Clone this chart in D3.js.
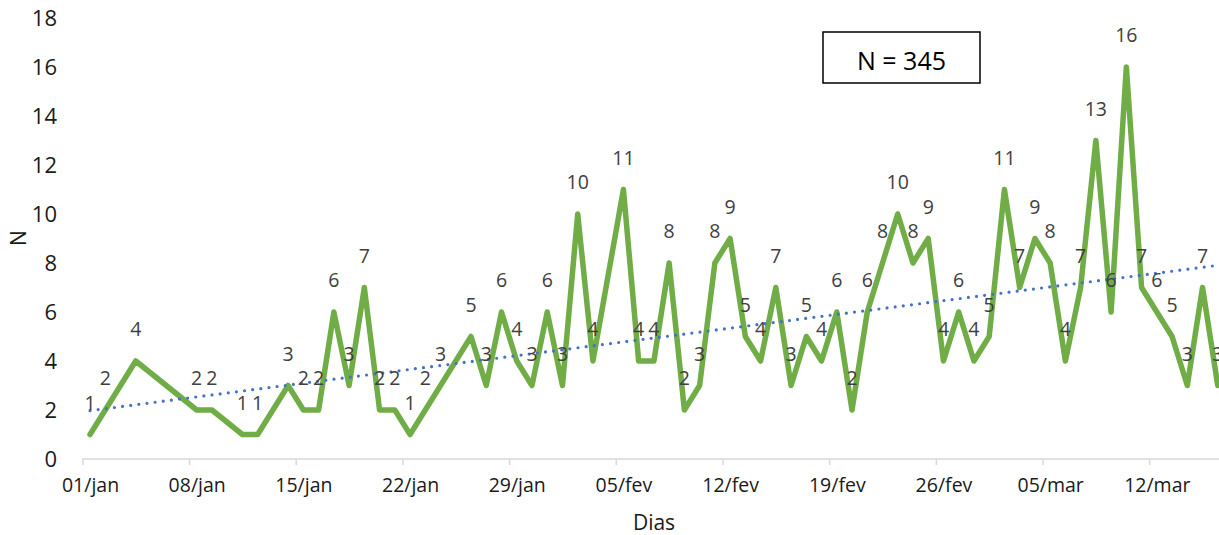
<!DOCTYPE html>
<html>
<head>
<meta charset="utf-8">
<script src="https://cdn.jsdelivr.net/npm/d3@7/dist/d3.min.js"></script>
<style>
  html, body { margin: 0; padding: 0; background: #fff; }
  svg { display: block; }
  text { font-family: "Open Sans", "Noto Sans", sans-serif; }
</style>
</head>
<body>
<svg id="chart" width="1219" height="535"></svg>
<script>
// ---- data ----
const dates = [
  "2019-01-01","2019-01-02","2019-01-04","2019-01-08","2019-01-09","2019-01-11","2019-01-12",
  "2019-01-14","2019-01-15","2019-01-16","2019-01-17","2019-01-18","2019-01-19","2019-01-20",
  "2019-01-21","2019-01-22","2019-01-23","2019-01-24","2019-01-26","2019-01-27","2019-01-28",
  "2019-01-29","2019-01-30","2019-01-31","2019-02-01","2019-02-02","2019-02-03","2019-02-05",
  "2019-02-06","2019-02-07","2019-02-08","2019-02-09","2019-02-10","2019-02-11","2019-02-12",
  "2019-02-13","2019-02-14","2019-02-15","2019-02-16","2019-02-17","2019-02-18","2019-02-19",
  "2019-02-20","2019-02-21","2019-02-22","2019-02-23","2019-02-24","2019-02-25","2019-02-26",
  "2019-02-27","2019-02-28","2019-03-01","2019-03-02","2019-03-03","2019-03-04","2019-03-05",
  "2019-03-06","2019-03-07","2019-03-08","2019-03-09","2019-03-10","2019-03-11","2019-03-12",
  "2019-03-13","2019-03-14","2019-03-15","2019-03-16"
];
const counts = [
  1,2,4,2,2,1,1,
  3,2,2,6,3,7,2,
  2,1,2,3,5,3,6,
  4,3,6,3,10,4,11,
  4,4,8,2,3,8,9,
  5,4,7,3,5,4,6,
  2,6,8,10,8,9,4,
  6,4,5,11,7,9,8,
  4,7,13,6,16,7,6,
  5,3,7,3
];
const tickDates = ["2019-01-01","2019-01-08","2019-01-15","2019-01-22","2019-01-29","2019-02-05",
                   "2019-02-12","2019-02-19","2019-02-26","2019-03-05","2019-03-12"];
const tickLabels = ["01/jan","08/jan","15/jan","22/jan","29/jan","05/fev","12/fev","19/fev","26/fev","05/mar","12/mar"];
const yTicks = [0,2,4,6,8,10,12,14,16,18];
const xTitle = "Dias";
const yTitle = "N";
const noteText = "N = 345";

// ---- setup ----
const svg = d3.select("#chart");
const parse = d3.utcParse("%Y-%m-%d");
const DAY = 864e5;
const pts = dates.map((d, i) => ({ date: parse(d), v: counts[i] }));
const first = pts[0].date, last = pts[pts.length - 1].date;

const x = d3.scaleUtc()
  .domain([new Date(+first - DAY / 2), new Date(+last + DAY / 2)])
  .range([82.4, 82.4 + 75 * 15.24]);
const y = d3.scaleLinear().domain([0, 18]).range([459, 18]);

// ---- x axis: line + boundary ticks ----
const boundaryTicks = tickDates.map(d => new Date(+parse(d) - DAY / 2));
const gx = svg.append("g").attr("transform", `translate(0,${y(0)})`)
  .call(d3.axisBottom(x).tickValues(boundaryTicks).tickSize(6).tickSizeOuter(0).tickFormat(""));
gx.select(".domain").attr("stroke", "#d9d9d9").attr("stroke-width", 1.5)
  .attr("d", `M${x.range()[0]},0H1219`);
gx.selectAll(".tick line").attr("stroke", "#d9d9d9").attr("stroke-width", 1.5);

// x tick labels (centred on the days)
const gxl = svg.append("g").attr("transform", `translate(0,${y(0)})`)
  .call(d3.axisBottom(x).tickValues(tickDates.map(parse)).tickSize(0)
    .tickFormat((d, i) => tickLabels[i]));
gxl.select(".domain").remove();
gxl.selectAll("text").attr("y", 33).attr("dy", 0)
  .attr("font-size", 19.5).attr("fill", "#1a1a1a")
  .style("font-family", '"Open Sans", sans-serif');

// y axis labels
const gy = svg.append("g").attr("transform", `translate(57,0)`)
  .call(d3.axisLeft(y).tickValues(yTicks).tickSize(0).tickPadding(0));
gy.select(".domain").remove();
gy.selectAll("text").attr("x", 0).attr("dy", "0.357em")
  .attr("font-size", 22).attr("fill", "#1a1a1a")
  .style("font-family", '"Open Sans", sans-serif');

// ---- data line ----
const line = d3.line().x(d => x(d.date)).y(d => y(d.v));
svg.append("path").datum(pts)
  .attr("d", line)
  .attr("fill", "none")
  .attr("stroke", "#70AD47")
  .attr("stroke-width", 5.5)
  .attr("stroke-linejoin", "round")
  .attr("stroke-linecap", "round");

// ---- linear trendline (least squares on date values) ----
const xs = pts.map(p => (+p.date - +first) / DAY);
const ys = pts.map(p => p.v);
const mx = d3.mean(xs), my = d3.mean(ys);
const slope = d3.sum(xs.map((xv, i) => (xv - mx) * (ys[i] - my))) / d3.sum(xs.map(xv => (xv - mx) ** 2));
const icpt = my - slope * mx;
const span = (+last - +first) / DAY;
const trend = [0, span].map(t => ({ date: new Date(+first + t * DAY), v: icpt + slope * t }));
svg.append("path").datum(trend)
  .attr("d", line)
  .attr("fill", "none")
  .attr("stroke", "#4472C4")
  .attr("stroke-width", 3.2)
  .attr("stroke-linecap", "round")
  .attr("stroke-dasharray", "0,8.2");

// ---- data labels ----
svg.append("g").selectAll("text").data(pts).join("text")
  .attr("x", d => x(d.date))
  .attr("y", d => y(d.v) - 25)
  .attr("text-anchor", "middle")
  .attr("font-size", 19.5)
  .attr("fill", "#404040")
  .text(d => d.v);

// ---- axis titles ----
svg.append("text").attr("x", 654).attr("y", 530)
  .attr("text-anchor", "middle").attr("font-size", 21).attr("fill", "#1a1a1a")
  .text(xTitle);
svg.append("text").attr("transform", "translate(26,238) rotate(-90)")
  .attr("text-anchor", "middle").attr("font-size", 21).attr("fill", "#1a1a1a")
  .text(yTitle);

// ---- N box ----
svg.append("rect").attr("x", 823).attr("y", 32).attr("width", 157).attr("height", 51)
  .attr("fill", "#fff").attr("stroke", "#000").attr("stroke-width", 1.5);
svg.append("text").attr("x", 901.5).attr("y", 70)
  .attr("text-anchor", "middle").attr("font-size", 25).attr("fill", "#000")
  .text(noteText);
</script>
</body>
</html>
